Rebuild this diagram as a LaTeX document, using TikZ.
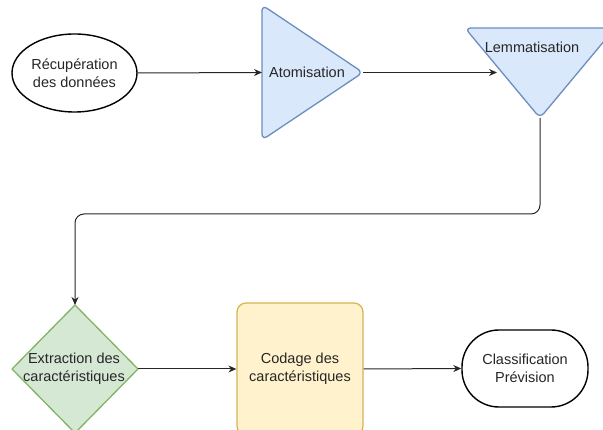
\documentclass[tikz,border=0pt]{standalone}
\usepackage{fontspec}
\setmainfont{Liberation Sans}
\usetikzlibrary{shapes.geometric,arrows.meta}
\definecolor{bluefill}{HTML}{DAE8FC}
\definecolor{bluedraw}{HTML}{6C8EBF}
\definecolor{greenfill}{HTML}{D5E8D4}
\definecolor{greendraw}{HTML}{82B366}
\definecolor{yellowfill}{HTML}{FFF2CC}
\definecolor{yellowdraw}{HTML}{D6B656}
\tikzset{
  lbl/.style={font=\fontsize{14.5}{18.5}\selectfont, align=center, inner sep=0pt, text=black!85},
  arr/.style={draw=black!85, line width=1pt, -{Stealth[length=8pt,width=7pt]}},
  blueshape/.style={fill=bluefill, draw=bluedraw, line width=1.3pt, rounded corners=6pt, line join=round},
  greenshape/.style={fill=greendraw!40!greenfill, fill=greenfill, draw=greendraw, line width=1.3pt, line join=round},
  yellowshape/.style={fill=yellowfill, draw=yellowdraw, line width=1.3pt, rounded corners=9pt},
  term/.style={draw=black, line width=1.4pt, fill=white}
}
\begin{document}
\begin{tikzpicture}[x=1pt,y=-1pt]
\useasboundingbox (0,0) rectangle (603,430);
% start ellipse
\node[ellipse, term, minimum width=125pt, minimum height=78pt, lbl] (rec) at (74.5,73) {Récupération\\des données};
% Atomisation triangle
\path[blueshape] (262,5) -- (363,72.5) -- (262,140) -- cycle;
\node[lbl] (atom) at (307,72.5) {Atomisation};
\coordinate (atomL) at (262,72.5);
\coordinate (atomR) at (363,72.5);
% Lemmatisation triangle
\path[blueshape] (465,28) -- (615,28) -- (540,118) -- cycle;
\node[lbl] (lem) at (532,47) {Lemmatisation};
\coordinate (lemL) at (497,72.5);
\coordinate (lemB) at (540,118);
% Extraction diamond
\path[greenshape] (75,305) -- (138,369) -- (75,433) -- (12,369) -- cycle;
\node[lbl] (ext) at (74,369) {Extraction des\\caractéristiques};
\coordinate (extT) at (75,305);
\coordinate (extR) at (138,369);
% Codage box
\node[yellowshape, minimum width=126pt, minimum height=132pt, lbl, inner sep=0pt] (cod) at (300,369) {Codage des\\caractéristiques};
% Classification pill
\node[term, rounded corners=37pt, minimum width=126pt, minimum height=77pt, lbl] (cls) at (525,368.5) {Classification\\Prévision};
% connectors
\draw[arr] (rec.east) -- (atomL);
\draw[arr] (atomR) -- (lemL);
\draw[arr, rounded corners=9pt] (lemB) -- (540,214) -- (75,214) -- (extT);
\draw[arr] (extR) -- (cod.west);
\draw[arr] (cod.east) -- (cls.west);
\end{tikzpicture}
\end{document}
